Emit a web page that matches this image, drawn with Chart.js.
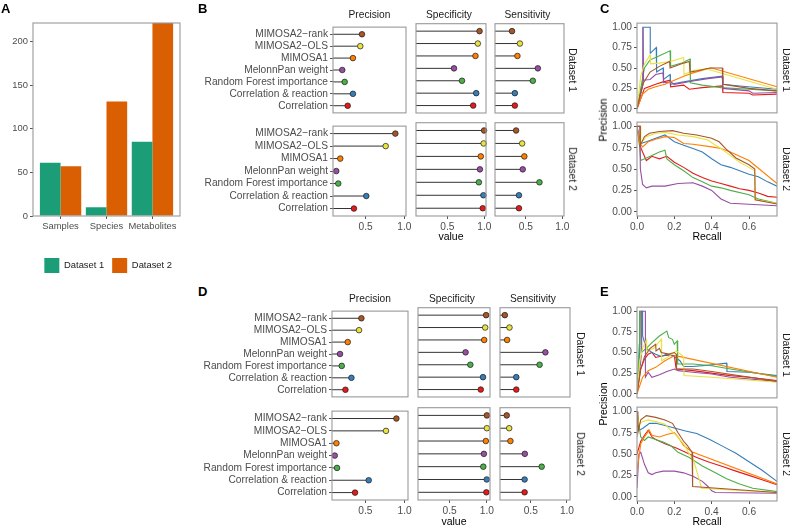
<!DOCTYPE html>
<html>
<head>
<meta charset="utf-8">
<script src="https://cdn.jsdelivr.net/npm/chart.js@4.4.1/dist/chart.umd.min.js"></script>
<style>
html, body { margin: 0; padding: 0; background: #fff; overflow: hidden; }
#fig { position: relative; width: 790px; height: 525px; font-family: "Liberation Sans", Arial, sans-serif; }
#fig canvas { position: absolute; }
.lbl { position: absolute; white-space: nowrap; line-height: 1; transform: translate(-50%, -50%); font-size: 10.2px; color: #1a1a1a; }
.vr { transform: translate(-50%, -50%) rotate(90deg); }
.vl { transform: translate(-50%, -50%) rotate(-90deg); color: #000; font-size: 10.5px; }
.tag { position: absolute; font-weight: bold; font-size: 13px; line-height: 1; }
</style>
</head>
<body>
<div id="fig"></div>
<script>
// ---- panel A: counts
const countCats = ['Samples', 'Species', 'Metabolites'];
const countDataset1 = [61, 10, 85];
const countDataset2 = [57, 131, 221];
const countTicks = [0, 50, 100, 150, 200];

// ---- lollipops (B and D), same order top -> bottom
const methods = ['MIMOSA2\u2212rank', 'MIMOSA2\u2212OLS', 'MIMOSA1', 'MelonnPan weight',
                 'Random Forest importance', 'Correlation & reaction', 'Correlation'];
const methodColors = ['#A65628', '#E9E23F', '#FF7F00', '#984EA3', '#4DAF4A', '#377EB8', '#E41A1C'];
const metricNames = ['Precision', 'Specificity', 'Sensitivity'];
const valueTicks = [0.5, 1.0];

const bPrecision1   = [0.452, 0.43, 0.335, 0.197, 0.228, 0.335, 0.267];
const bSpecificity1 = [0.935, 0.912, 0.88, 0.59, 0.698, 0.89, 0.849];
const bSensitivity1 = [0.31, 0.418, 0.384, 0.664, 0.595, 0.349, 0.349];
const bPrecision2   = [0.884, 0.759, 0.171, 0.119, 0.145, 0.508, 0.348];
const bSpecificity2 = [0.996, 0.99, 0.952, 0.94, 0.926, 0.987, 0.978];
const bSensitivity2 = [0.366, 0.449, 0.479, 0.457, 0.686, 0.405, 0.405];
const bLimits = [0.077, 1.022];

const dPrecision1   = [0.449, 0.419, 0.275, 0.177, 0.199, 0.322, 0.246];
const dSpecificity1 = [0.99, 0.977, 0.964, 0.714, 0.778, 0.948, 0.918];
const dSensitivity1 = [0.142, 0.206, 0.173, 0.702, 0.622, 0.30, 0.30];
const dPrecision2   = [0.894, 0.762, 0.131, 0.11, 0.139, 0.542, 0.368];
const dSpecificity2 = [1.0, 1.0, 0.986, 0.96, 0.952, 0.998, 0.993];
const dSensitivity2 = [0.168, 0.202, 0.219, 0.418, 0.651, 0.415, 0.415];
const dLimits = [0.075, 1.042];

// ---- precision/recall curves (C and E): [recall, precision] per method, same order as methods
const recallTicks = [0, 0.2, 0.4, 0.6];
const precisionTicks = [0, 0.25, 0.5, 0.75, 1];

const prC1 = [
  [[0,0],[0.03,0.3],[0.07,0.45],[0.12,0.52],[0.175,0.58],[0.177,0.5],[0.25,0.56],[0.28,0.58],[0.284,0.45],[0.33,0.47],[0.39,0.5],[0.457,0.5],[0.46,0.3],[0.6,0.25],[0.75,0.22]],
  [[0,0],[0.02,0.4],[0.04,0.55],[0.07,0.66],[0.072,0.55],[0.12,0.56],[0.18,0.58],[0.25,0.63],[0.252,0.42],[0.3,0.47],[0.37,0.49],[0.75,0.24]],
  [[0,0],[0.03,0.18],[0.06,0.24],[0.1,0.27],[0.15,0.3],[0.2,0.35],[0.25,0.4],[0.3,0.44],[0.36,0.48],[0.4,0.5],[0.75,0.27]],
  [[0,0],[0.032,0.3],[0.032,1.0],[0.035,0.35],[0.07,0.36],[0.1,0.42],[0.14,0.44],[0.142,0.32],[0.18,0.33],[0.2,0.3],[0.3,0.34],[0.38,0.37],[0.457,0.39],[0.46,0.25],[0.6,0.22],[0.62,0.19],[0.75,0.2]],
  [[0,0],[0.04,0.5],[0.07,0.6],[0.1,0.63],[0.177,0.71],[0.18,0.52],[0.24,0.56],[0.284,0.61],[0.286,0.32],[0.35,0.29],[0.45,0.26],[0.6,0.24],[0.75,0.22]],
  [[0,0],[0.032,0.3],[0.032,1.0],[0.071,1.0],[0.071,0.68],[0.103,0.75],[0.105,0.45],[0.14,0.5],[0.142,0.36],[0.177,0.42],[0.179,0.3],[0.25,0.33],[0.35,0.37],[0.457,0.4],[0.46,0.3],[0.55,0.28],[0.75,0.24]],
  [[0,0],[0.04,0.25],[0.1,0.3],[0.14,0.33],[0.177,0.35],[0.18,0.27],[0.25,0.29],[0.28,0.24],[0.35,0.26],[0.457,0.28],[0.46,0.2],[0.6,0.19],[0.62,0.17],[0.75,0.18]]
];
const prC2 = [
  [[0,1],[0.018,1],[0.018,0.78],[0.04,0.88],[0.067,0.92],[0.12,0.94],[0.19,0.95],[0.25,0.92],[0.32,0.9],[0.4,0.86],[0.44,0.82],[0.475,0.74],[0.53,0.63],[0.6,0.55],[0.631,0.5],[0.633,0.14],[0.75,0.09]],
  [[0,1],[0.02,1],[0.02,0.8],[0.05,0.88],[0.1,0.92],[0.15,0.93],[0.22,0.9],[0.3,0.88],[0.38,0.84],[0.42,0.78],[0.45,0.74],[0.5,0.66],[0.55,0.58],[0.6,0.52],[0.63,0.48],[0.633,0.14],[0.75,0.1]],
  [[0,1],[0.015,0.8],[0.03,0.76],[0.06,0.82],[0.1,0.85],[0.15,0.88],[0.2,0.87],[0.25,0.8],[0.3,0.79],[0.4,0.76],[0.45,0.74],[0.5,0.7],[0.55,0.65],[0.6,0.6],[0.75,0.33]],
  [[0,1],[0.015,1],[0.018,0.5],[0.03,0.32],[0.05,0.28],[0.08,0.3],[0.15,0.3],[0.22,0.33],[0.3,0.34],[0.35,0.3],[0.4,0.25],[0.45,0.15],[0.5,0.1],[0.75,0.07]],
  [[0,1],[0.015,0.75],[0.02,0.6],[0.05,0.63],[0.08,0.66],[0.12,0.7],[0.15,0.72],[0.16,0.62],[0.2,0.55],[0.25,0.48],[0.3,0.4],[0.35,0.35],[0.4,0.3],[0.45,0.28],[0.5,0.25],[0.6,0.2],[0.65,0.15],[0.75,0.1]],
  [[0,1],[0.02,0.8],[0.05,0.82],[0.1,0.86],[0.15,0.9],[0.2,0.82],[0.25,0.78],[0.3,0.74],[0.35,0.7],[0.4,0.62],[0.45,0.55],[0.5,0.52],[0.55,0.48],[0.6,0.44],[0.65,0.41],[0.7,0.35],[0.75,0.3]],
  [[0,1],[0.015,0.78],[0.03,0.7],[0.05,0.6],[0.08,0.65],[0.12,0.62],[0.16,0.65],[0.2,0.58],[0.25,0.52],[0.3,0.45],[0.35,0.4],[0.4,0.36],[0.45,0.33],[0.5,0.3],[0.55,0.27],[0.6,0.25],[0.65,0.22],[0.7,0.18],[0.75,0.17]]
];
const prE1 = [
  [[0,0],[0.02,0.3],[0.04,0.45],[0.07,0.55],[0.1,0.6],[0.102,0.52],[0.12,0.55],[0.13,0.5],[0.17,0.48],[0.2,0.5],[0.21,0.48],[0.212,0.3],[0.3,0.3],[0.4,0.27],[0.75,0.15]],
  [[0,0],[0.015,0.4],[0.03,0.55],[0.05,0.65],[0.052,0.52],[0.09,0.55],[0.13,0.66],[0.132,0.4],[0.17,0.45],[0.21,0.52],[0.25,0.45],[0.252,0.22],[0.4,0.2],[0.75,0.14]],
  [[0,0],[0.03,0.2],[0.06,0.28],[0.1,0.32],[0.15,0.4],[0.2,0.46],[0.23,0.45],[0.75,0.2]],
  [[0,0],[0.025,0.5],[0.025,1.0],[0.045,1.0],[0.045,0.2],[0.06,0.26],[0.08,0.2],[0.12,0.23],[0.16,0.27],[0.2,0.3],[0.22,0.28],[0.3,0.26],[0.4,0.24],[0.5,0.2],[0.75,0.15]],
  [[0,0],[0.012,0.6],[0.014,1.0],[0.02,1.0],[0.022,0.5],[0.05,0.55],[0.08,0.62],[0.12,0.7],[0.16,0.76],[0.17,0.68],[0.19,0.66],[0.2,0.6],[0.215,0.64],[0.218,0.36],[0.3,0.36],[0.4,0.34],[0.5,0.3],[0.75,0.21]],
  [[0,0],[0.014,0.5],[0.014,1.0],[0.03,1.0],[0.03,0.7],[0.05,0.55],[0.08,0.5],[0.1,0.48],[0.13,0.45],[0.16,0.48],[0.2,0.45],[0.23,0.4],[0.25,0.33],[0.3,0.33],[0.4,0.35],[0.48,0.37],[0.482,0.27],[0.6,0.26],[0.75,0.22]],
  [[0,0],[0.02,0.3],[0.04,0.42],[0.06,0.48],[0.08,0.5],[0.1,0.44],[0.14,0.46],[0.18,0.47],[0.2,0.46],[0.21,0.3],[0.3,0.28],[0.4,0.25],[0.5,0.22],[0.6,0.2],[0.75,0.16]]
];
const prE2 = [
  [[0,1],[0.005,0.75],[0.02,0.9],[0.05,0.95],[0.1,0.93],[0.15,0.9],[0.19,0.86],[0.22,0.75],[0.25,0.65],[0.27,0.6],[0.295,0.52],[0.298,0.12],[0.75,0.05]],
  [[0,1],[0.01,0.85],[0.03,0.88],[0.06,0.9],[0.1,0.88],[0.15,0.85],[0.18,0.78],[0.21,0.72],[0.25,0.62],[0.28,0.5],[0.3,0.45],[0.32,0.3],[0.34,0.15],[0.345,0.1],[0.75,0.05]],
  [[0,0.3],[0.02,0.62],[0.04,0.7],[0.065,0.78],[0.08,0.72],[0.12,0.7],[0.16,0.73],[0.2,0.75],[0.22,0.7],[0.25,0.6],[0.28,0.55],[0.3,0.52],[0.75,0.15]],
  [[0,0.1],[0.01,0.5],[0.02,0.52],[0.04,0.38],[0.06,0.28],[0.08,0.26],[0.1,0.28],[0.14,0.3],[0.2,0.3],[0.25,0.28],[0.3,0.24],[0.35,0.18],[0.38,0.12],[0.4,0.07],[0.42,0.05],[0.75,0.04]],
  [[0,1],[0.01,0.85],[0.02,0.7],[0.04,0.66],[0.06,0.7],[0.1,0.67],[0.14,0.64],[0.18,0.6],[0.22,0.52],[0.28,0.46],[0.35,0.36],[0.42,0.28],[0.48,0.21],[0.55,0.15],[0.62,0.1],[0.75,0.06]],
  [[0,1],[0.01,0.78],[0.03,0.8],[0.067,0.86],[0.1,0.86],[0.14,0.84],[0.21,0.8],[0.26,0.77],[0.32,0.74],[0.39,0.67],[0.46,0.59],[0.53,0.51],[0.6,0.41],[0.67,0.31],[0.75,0.18]],
  [[0,0.5],[0.02,0.65],[0.04,0.72],[0.06,0.78],[0.08,0.7],[0.1,0.67],[0.15,0.62],[0.21,0.57],[0.26,0.52],[0.32,0.46],[0.38,0.41],[0.45,0.36],[0.53,0.3],[0.6,0.25],[0.67,0.2],[0.75,0.14]]
];

// ---------------------------------------------------------------
const FONT = '"Liberation Sans", Arial, sans-serif';
Chart.defaults.font.family = FONT;
Chart.defaults.color = '#4d4d4d';
const fig = document.getElementById('fig');

// grey panel border like theme_bw
const frame = {
  id: 'frame',
  afterDatasetsDraw(chart) {
    const a = chart.chartArea, ctx = chart.ctx;
    ctx.save();
    ctx.strokeStyle = '#999999';
    ctx.lineWidth = 1.1;
    ctx.strokeRect(a.left, a.top, a.right - a.left, a.bottom - a.top);
    ctx.restore();
  }
};

// box = [left, right, top, bottom] of the plot area, pad = room around it [l, r, t, b]
function canvasFor(box, pad) {
  const c = document.createElement('canvas');
  const w = box[1] - box[0] + pad[0] + pad[1], h = box[3] - box[2] + pad[2] + pad[3];
  c.width = w; c.height = h;
  c.style.left = (box[0] - pad[0]) + 'px';
  c.style.top = (box[2] - pad[2]) + 'px';
  c.style.width = w + 'px';
  c.style.height = h + 'px';
  fig.appendChild(c);
  return c;
}

function axis(o) {
  return {
    type: 'linear', min: o.min, max: o.max, reverse: !!o.reverse, offset: false,
    display: o.show,
    border: { display: false },
    grid: { display: true, offset: false, drawOnChartArea: false, drawTicks: true, tickLength: 3, tickColor: '#555', tickWidth: 1 },
    ticks: { autoSkip: false, maxRotation: 0, padding: 2, color: '#4d4d4d', font: { size: o.fontSize || 10.2 },
             callback: v => o.fmt(v) },
    title: o.title ? { display: true, text: o.title, color: '#000', font: { size: 10.5 }, padding: { top: 0, bottom: 0 } }
                   : { display: false },
    afterBuildTicks: s => { s.ticks = o.ticks.map(v => ({ value: v })); },
    afterFit: s => {
      if (o.horizontal) s.height = typeof o.size === 'function' ? o.size(s) : o.size;
      else s.width = o.size;
    }
  };
}

function options(x, y, pad, plugins) {
  return {
    responsive: false, animation: false, events: [],
    layout: { padding: { left: y.display ? 0 : pad[0], right: pad[1], top: pad[2], bottom: x.display ? 0 : pad[3] } },
    plugins: Object.assign({ legend: { display: false }, tooltip: { enabled: false } }, plugins || {}),
    scales: { x: x, y: y }
  };
}

function text(str, x, y, cls) {
  const d = document.createElement('div');
  d.className = 'lbl' + (cls ? ' ' + cls : '');
  d.textContent = str;
  d.style.left = x + 'px';
  d.style.top = y + 'px';
  fig.appendChild(d);
}
function tag(str, x, y) {
  const d = document.createElement('div');
  d.className = 'tag';
  d.textContent = str;
  d.style.left = x + 'px';
  d.style.top = y + 'px';
  fig.appendChild(d);
}

// ---- A
(function () {
  const box = [33, 180, 23, 216], pad = [33, 10, 8, 67];
  const cv = canvasFor(box, pad);
  const yMax = Math.max(...countDataset1, ...countDataset2);
  new Chart(cv, {
    type: 'bar',
    data: {
      datasets: [
        { label: 'Dataset 1', data: countDataset1.map((v, i) => ({ x: i + 1, y: v })), backgroundColor: '#1B9E77',
          borderWidth: 0, categoryPercentage: 0.9, barPercentage: 1 },
        { label: 'Dataset 2', data: countDataset2.map((v, i) => ({ x: i + 1, y: v })), backgroundColor: '#D95F02',
          borderWidth: 0, categoryPercentage: 0.9, barPercentage: 1 }
      ]
    },
    options: options(
      axis({ min: 0.4, max: 3.6, ticks: [1, 2, 3], fmt: v => countCats[v - 1], show: true, horizontal: true,
             fontSize: 9.4, size: s => pad[3] - s.chart.legend.height }),
      axis({ min: 0, max: yMax, ticks: countTicks, fmt: v => String(v), show: true, size: pad[0], fontSize: 9.4 }),
      pad,
      { legend: { display: true, position: 'bottom', align: 'end',
                  labels: { boxWidth: 15, boxHeight: 15, padding: 8, color: '#1a1a1a', font: { size: 9.4 } } } }
    ),
    plugins: [frame]
  });
})();

// ---- lollipop facets
function lollipop(box, pad, values, limits, showY, showX, title) {
  const cv = canvasFor(box, pad);
  const dots = {
    data: values.map((v, i) => ({ x: v, y: i })),
    pointRadius: 2.8, pointBackgroundColor: methodColors, pointBorderColor: '#1a1a1a', pointBorderWidth: 0.7,
    clip: false
  };
  const stems = values.map((v, i) => ({
    data: [{ x: 0, y: i }, { x: v, y: i }], showLine: true, borderColor: '#333', borderWidth: 1, pointRadius: 0
  }));
  new Chart(cv, {
    type: 'scatter',
    data: { datasets: [dots, ...stems] },
    options: options(
      axis({ min: limits[0], max: limits[1], ticks: valueTicks, fmt: v => v.toFixed(1), show: showX,
             horizontal: true, size: pad[3], title: title }),
      axis({ min: -0.6, max: 6.6, reverse: true, ticks: methods.map((m, i) => i), fmt: v => methods[v],
             show: showY, size: pad[0] }),
      pad),
    plugins: [frame]
  });
}

function lollipopBlock(cols, rows, rowValues, limits, stripX, headY, bottomPad) {
  rows.forEach((r, ri) => {
    cols.forEach((c, ci) => {
      const last = ri === rows.length - 1;
      const pad = [ci === 0 ? 132 : 4, 10, 4, last ? bottomPad : 4];
      lollipop([c[0], c[1], r[0], r[1]], pad, rowValues[ri][ci], limits, ci === 0, last,
               last && ci === 1 ? 'value' : null);
    });
    text('Dataset ' + (ri + 1), stripX, (r[0] + r[1]) / 2, 'vr');
  });
  cols.forEach((c, ci) => text(metricNames[ci], (c[0] + c[1]) / 2, headY));
}

lollipopBlock([[333, 406], [412, 486], [491, 564]], [[23, 117], [122, 216]],
  [[bPrecision1, bSpecificity1, bSensitivity1], [bPrecision2, bSpecificity2, bSensitivity2]],
  bLimits, 572, 14.5, 27);
lollipopBlock([[332, 408], [414, 490], [496, 570]], [[307, 401], [407, 500]],
  [[dPrecision1, dSpecificity1, dSensitivity1], [dPrecision2, dSpecificity2, dSensitivity2]],
  dLimits, 580, 299, 28);

// ---- precision / recall facets
function prPanel(box, pad, curves, showX) {
  const cv = canvasFor(box, pad);
  new Chart(cv, {
    type: 'scatter',
    data: {
      datasets: curves.map((pts, i) => ({
        data: pts.map(p => ({ x: p[0], y: p[1] })), showLine: true, borderColor: methodColors[i],
        borderWidth: 1.1, pointRadius: 0
      }))
    },
    options: options(
      axis({ min: 0, max: 0.75, ticks: recallTicks, fmt: v => v.toFixed(1), show: showX, horizontal: true,
             size: pad[3], title: showX ? 'Recall' : null }),
      axis({ min: -0.05, max: 1.05, ticks: precisionTicks, fmt: v => v.toFixed(2), show: true, size: pad[0] }),
      pad),
    plugins: [frame]
  });
}

function prBlock(rows, curvesPerRow, titleY) {
  rows.forEach((r, ri) => {
    const last = ri === rows.length - 1;
    prPanel([637, 777, r[0], r[1]], [40, 4, 8, last ? 27 : 4], curvesPerRow[ri], last);
    text('Dataset ' + (ri + 1), 785.5, (r[0] + r[1]) / 2, 'vr');
  });
  text('Precision', 603, titleY, 'vl');
}
prBlock([[23, 117], [122, 216]], [prC1, prC2], 120);
prBlock([[307, 402], [407, 501]], [prE1, prE2], 404);

// ---- panel tags
tag('A', 1, 2);
tag('B', 198, 2);
tag('C', 600, 2);
tag('D', 198, 285);
tag('E', 600, 285);
</script>
</body>
</html>
